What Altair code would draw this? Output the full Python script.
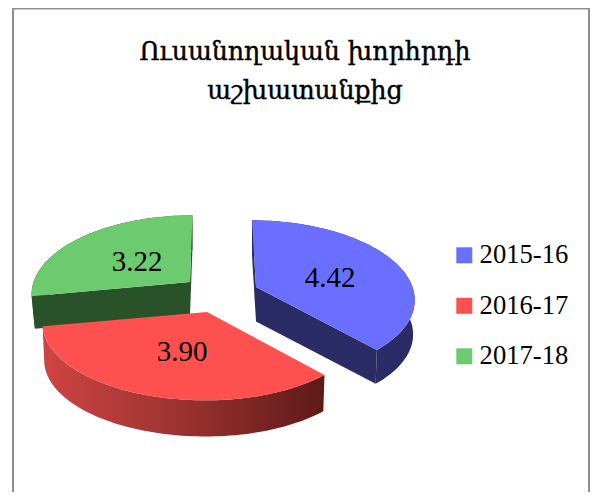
import math
import altair as alt

title_lines = ["Ուսանողական խորհրդի", "աշխատանքից"]
years = ["2015-16", "2016-17", "2017-18"]
values = [4.42, 3.90, 3.22]
top_colors = ["#6b6fff", "#ff5050", "#6ccb6e"]
wall_colors = ["#2b2c66", "#a03230", "#2a5228"]

W, H = 582, 484
# chart coordinates of each slice's apex (exploded slices): page position minus the 8px margin
apex = [(256 - 8, 287 - 8), (207 - 8, 312 - 8), (190 - 8, 282 - 8)]
R, RY, K, VX = 158, 76, 0.14, 215 - 8
rx_right = [0.99, 1.0, 1.0]
rx_left = [1.0, 1.03, 0.99]
depth = [34.5, 37, 33]
shrink = [0.99, 0.99, 0.98]
label_pos = [(330 - 8, 278 - 8), (182 - 8, 352 - 8), (137 - 8, 262 - 8)]
title_pos = [(297, 52), (297, 91)]

total = sum(values)
starts, cum = [], 0.0
for v in values:
    starts.append(cum / total * 2 * math.pi)
    cum += v


def proj(i, t):
    ax, ay = apex[i]
    yy = -math.cos(t)
    s = 1 / (1 - K * yy)
    sx = math.sin(t)
    rx = R * (rx_right[i] if sx >= 0 else rx_left[i])
    return (ax + rx * sx * s + (ax - VX) * (s - 1) * 0.8, ay + RY * yy * s)


def arc(i, t0, t1):
    n = max(2, int((t1 - t0) / math.radians(1.5)))
    return [proj(i, t0 + (t1 - t0) * k / n) for k in range(n + 1)]


def low(i, p):
    ax, ay = apex[i]
    return (ax + (p[0] - ax) * shrink[i], ay + (p[1] - ay) * shrink[i] + depth[i])


def feature(name, pts):
    ring = [list(p) for p in pts] + [list(pts[0])]
    return {"type": "Feature", "properties": {"name": name},
            "geometry": {"type": "Polygon", "coordinates": [ring]}}


PROJ = dict(type="identity", scale=1, translate=[0, 0])
layers = []
draw_order = [2, 0, 1]
for i in draw_order:
    ax, ay = apex[i]
    t0 = starts[i]
    t1 = t0 + values[i] / total * 2 * math.pi
    rim = arc(i, t0, t1)
    apex_low = low(i, (ax, ay))
    walls = []
    if i != 1:
        walls.append(feature(years[i], [rim[0], (ax, ay), apex_low, low(i, rim[0])]))
        walls.append(feature(years[i], [rim[-1], (ax, ay), apex_low, low(i, rim[-1])]))
    outer = feature(years[i], rim + [low(i, p) for p in reversed(rim)])
    if i == 1:
        fill = alt.Gradient(
            gradient="linear", x1=0, x2=1, y1=0, y2=0,
            stops=[
                alt.GradientStop(color="#cf4442", offset=0),
                alt.GradientStop(color="#a03432", offset=0.45),
                alt.GradientStop(color="#5e1a18", offset=1),
            ],
        )
        wall_layer = alt.Chart(alt.Data(values=[outer])).mark_geoshape(fill=fill, strokeWidth=0)
    else:
        wall_layer = alt.Chart(alt.Data(values=walls + [outer])).mark_geoshape(
            fill=wall_colors[i], strokeWidth=0)
    layers.append(wall_layer.project(**PROJ))
    top = feature(years[i], [(ax, ay)] + rim)
    layers.append(
        alt.Chart(alt.Data(values=[top])).mark_geoshape(strokeWidth=0)
        .encode(color=alt.Color(
            "properties.name:N",
            scale=alt.Scale(domain=years, range=top_colors),
            legend=alt.Legend(
                title=None, orient="none", legendX=443, legendY=234,
                symbolType="square", symbolSize=256, symbolStrokeWidth=0,
                symbolOpacity=1, labelFont="Liberation Serif", labelFontSize=26.6,
                labelColor="#000000", labelOffset=2, rowPadding=23.5, padding=0,
                labelLimit=200,
            ),
        ))
        .project(**PROJ)
    )

frame = alt.Chart(alt.Data(values=[{"a": 5, "b": 581, "c": 0.5, "d": 520}])).mark_rect(
    fill="#ffffff", stroke="#8f8f8f", strokeWidth=2
).encode(
    x=alt.X("a:Q", scale=None), x2="b:Q",
    y=alt.Y("c:Q", scale=None), y2="d:Q",
)

labels = alt.Chart(alt.Data(values=[
    {"t": f"{v:.2f}", "x": p[0], "y": p[1]} for v, p in zip(values, label_pos)
])).mark_text(font="Liberation Serif", fontSize=29, color="#000000", baseline="middle").encode(
    x=alt.X("x:Q", scale=None), y=alt.Y("y:Q", scale=None), text="t:N"
)

title_marks = alt.Chart(alt.Data(values=[
    {"t": t, "x": p[0], "y": p[1]} for t, p in zip(title_lines, title_pos)
])).mark_text(
    font="DejaVu Serif", fontSize=25.2, fill="#000000", stroke="#000000", strokeWidth=0.45,
    baseline="alphabetic", align="center",
).encode(
    x=alt.X("x:Q", scale=None), y=alt.Y("y:Q", scale=None), text="t:N"
)

chart = alt.layer(frame, *layers, labels, title_marks).properties(
    width=W, height=H, padding=0,
    autosize=alt.AutoSizeParams(type="none"),
    background="#ffffff",
).configure_view(stroke=None)

chart.save("out.html", embed_options={"renderer": "svg", "actions": False})
